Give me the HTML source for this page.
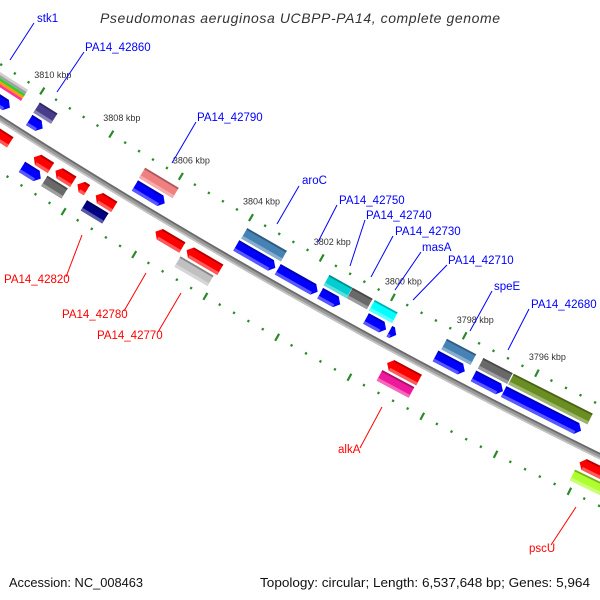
<!DOCTYPE html>
<html><head><meta charset="utf-8">
<style>
html,body{margin:0;padding:0;background:#fff;}
svg{display:block;font-family:"Liberation Sans",sans-serif;}
</style></head>
<body>
<svg id="map" width="600" height="600" viewBox="0 0 600 600" xmlns="http://www.w3.org/2000/svg">
<rect width="600" height="600" fill="#fff"/>
<text x="300" y="23" text-anchor="middle" font-size="14" font-style="italic" fill="#333" textLength="400" lengthAdjust="spacing">Pseudomonas aeruginosa UCBPP-PA14, complete genome</text>
<g id="ticks"></g>
<g id="backbone"></g>
<g id="features"></g>
<g id="labels"></g>
<text x="9" y="587" font-size="12.5" fill="#111" textLength="134" lengthAdjust="spacingAndGlyphs">Accession: NC_008463</text>
<text x="590" y="587" text-anchor="end" font-size="12.5" fill="#111" textLength="330" lengthAdjust="spacingAndGlyphs">Topology: circular; Length: 6,537,648 bp; Genes: 5,964</text>
</svg>
<script>
// ---- data ----
const fStart = [3810.94,3809.89,3806.85,3803.97,3802.80,3801.61,3800.33,3799.68,3798.40,3797.35,3796.52,
                3809.90,3806.86,3803.95,3801.63,3800.98,3800.36,3798.35,3797.34,3796.50,
                3810.80,3809.31,3808.69,3808.06,3807.54,3805.84,3804.96,3799.36,3794.09,
                3809.43,3808.79,3807.66,3805.01,3799.38,3794.11];
const fEnd   = [3810.45,3809.50,3806.00,3802.87,3801.68,3801.05,3799.77,3799.49,3797.59,3796.54,3794.40,
                3809.39,3805.90,3802.83,3800.99,3800.42,3799.72,3797.54,3796.53,3794.33,
                3809.99,3808.82,3808.18,3807.79,3807.01,3805.08,3804.01,3798.48,3792.87,
                3808.89,3808.21,3807.05,3804.08,3798.50,3792.87];
const fRow   = [-1,-1,-1,-1,-1,-1,-1,-1,-1,-1,-1,
                -2,-2,-2,-2,-2,-2,-2,-2,-2,
                1,1,1,1,1,1,1,1,1,
                2,2,2,2,2,2];
const fShape = ['R','R','R','R','R','R','R','R','R','R','R',
                'B','B','B','B','B','B','B','B','B',
                'L','L','L','L','L','L','L','L','L',
                'R','B','B','B','B','B'];
const fColor = ['#0000ff','#0000ff','#0000ff','#0000ff','#0000ff','#0000ff','#0000ff','#0000ff','#0000ff','#0000ff','#0000ff',
                '#483d8b','#f08080','#4682b4','#00ced1','#696969','#00ffff','#4682b4','#696969','#6b8e23',
                '#ff0000','#ff0000','#ff0000','#ff0000','#ff0000','#ff0000','#ff0000','#ff0000','#ff0000',
                '#0000ff','#696969','#000080','#c0c0c0','#f0189a','#adff2f'];
const tickLabels = [3810,3808,3806,3804,3802,3800,3798,3796];
const stripeColors = ['#d0d0d0','#a0a0a0','#33cc33','#ff9900','#ff3399'];
const labelText  = ['stk1','PA14_42860','PA14_42790','aroC','PA14_42750','PA14_42740','PA14_42730','masA','PA14_42710','speE','PA14_42680','PA14_42820','PA14_42780','PA14_42770','alkA','pscU'];
const labelX     = [37,85,197,302,339,366,395,422,448,494,531,4,62,97,338,529];
const labelY     = [22,51,121,184,204,219,235,251,264,290,308,283,318,339,453,552];
const labelColor = ['b','b','b','b','b','b','b','b','b','b','b','r','r','r','r','r'];
const lineX1 = [34,84,196,299,337,365,393,421,447,492,529,66,124,158,360,551];
const lineY1 = [23,52,122,186,205,220,236,252,265,291,309,277,311,332,448,545];
const lineX2 = [10,57,172,277,318,350,371,395,413,470,508,82,146,181,382,576];
const lineY2 = [60,92,163,224,242,266,277,290,300,331,350,235,273,293,407,507];

// ---- geometry ----
const NS='http://www.w3.org/2000/svg';
const C=Math.cos(29.47*Math.PI/180), S=Math.sin(29.47*Math.PI/180);
const R0=6120.5, CU=330, CV=-6117;
function sOf(k){return 17.6+(3810-k)*41;}
function P(k,off){const s=sOf(k);const a=(s-CU)/R0;const r=R0+off;
  const u=CU+r*Math.sin(a), v=CV+r*Math.cos(a);
  return [u*C-v*S, 125+u*S+v*C];}
function Ps(s,off){return P(3810-(s-17.6)/41,off);}
function mk(tag,attrs,parent){const e=document.createElementNS(NS,tag);for(const k in attrs)e.setAttribute(k,attrs[k]);parent.appendChild(e);return e;}
function pts(a){return a.map(p=>p[0].toFixed(2)+','+p[1].toFixed(2)).join(' ');}
function mix(hex,t,w){const n=parseInt(hex.slice(1),16);let r=n>>16,g=(n>>8)&255,b=n&255;const m=w?255:0;
  r=Math.round(r+(m-r)*t);g=Math.round(g+(m-g)*t);b=Math.round(b+(m-b)*t);return 'rgb('+r+','+g+','+b+')';}

// ticks
const tg=document.getElementById('ticks');
[-46,45].forEach(off=>{
  for(let i=-3;i<=47;i++){
    const k=3810-i*0.4; const major=(i%5===0);
    const h=major?4:1.2;
    const a=P(k,off-h),b=P(k,off+h);
    const t=mk('line',{x1:a[0],y1:a[1],x2:b[0],y2:b[1],stroke:'#2a8a2a','stroke-width':2.2},tg);
    
    
  }
});
tickLabels.forEach(k=>{
  const p=P(k,-46);
  const t=mk('text',{x:(p[0]-8).toFixed(1),y:(p[1]-13).toFixed(1),'font-size':9,fill:'#333'},tg);
  t.textContent=k+' kbp';
  
  
});

// backbone
const bg=document.getElementById('backbone');
function arc(off){const a=[];for(let s=-40;s<=740;s+=10)a.push(Ps(s,off));return pts(a);}
const b1=mk('polyline',{points:arc(0),fill:'none',stroke:'#9a9a9a','stroke-width':6},bg);


mk('polyline',{points:arc(-2.2),fill:'none',stroke:'#6a6a6a','stroke-width':1.8},bg);
mk('polyline',{points:arc(2.2),fill:'none',stroke:'#c4c4c4','stroke-width':1.8},bg);

// features
const fg=document.getElementById('features');
const H=12, TIP=5;
function shape(k1,k2,off,h,type){
  const s1=sOf(k1), s2=sOf(k2); const L=s2-s1; const tip=Math.min(TIP,L*0.6);
  const top=off-h/2, bot=off+h/2;
  if(type==='R') return [Ps(s1,top),Ps(s2-tip,top),Ps(s2,off),Ps(s2-tip,bot),Ps(s1,bot)];
  if(type==='L') return [Ps(s1,off),Ps(s1+tip,top),Ps(s2,top),Ps(s2,bot),Ps(s1+tip,bot)];
  return [Ps(s1,top),Ps(s2,top),Ps(s2,bot),Ps(s1,bot)];
}
function band(k1,k2,off,h,type){
  const s1=sOf(k1), s2=sOf(k2); const L=s2-s1; const tip=Math.min(TIP,L*0.6);
  let a=s1,b=s2; if(type==='R')b=s2-tip; if(type==='L')a=s1+tip;
  return [Ps(a,off-h/2),Ps(b,off-h/2),Ps(b,off+h/2),Ps(a,off+h/2)];
}
// top-left multicolour stripe stack
stripeColors.forEach((c,i)=>{
  const off=-38+i*2.6;
  const poly=shape(3811.3,3810.31,off,2.6,'B');
  const e=mk('polygon',{points:pts(poly),fill:c},fg);
  
  
});
for(let i=0;i<fStart.length;i++){
  const off=fRow[i]*14.5;
  const g=mk('g',{},fg);
  
  
  mk('polygon',{points:pts(shape(fStart[i],fEnd[i],off,H,fShape[i])),fill:fColor[i]},g);
  mk('polygon',{points:pts(band(fStart[i],fEnd[i],off+H/2-1.6,3.2,fShape[i])),fill:mix(fColor[i],0.35,true)},g);
  mk('polygon',{points:pts(band(fStart[i],fEnd[i],off-H/2+0.9,1.8,fShape[i])),fill:mix(fColor[i],0.3,false)},g);
}

// labels
const lg=document.getElementById('labels');
for(let i=0;i<labelText.length;i++){
  const col=labelColor[i]==='b'?'#0000ff':'#ff0000';
  const l=mk('line',{x1:lineX1[i],y1:lineY1[i],x2:lineX2[i],y2:lineY2[i],stroke:col,'stroke-width':1},lg);
  
  
  const t=mk('text',{x:labelX[i],y:labelY[i],'font-size':11.5,fill:col},lg);
  t.textContent=labelText[i];
  
  
}
</script>
</body></html>
